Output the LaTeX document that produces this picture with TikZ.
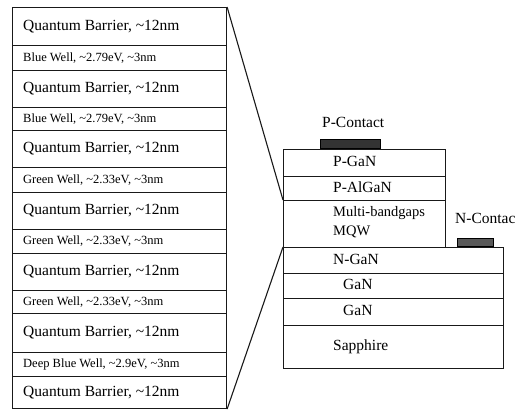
\documentclass[tikz,border=0pt]{standalone}
\usepackage{fontspec}
\setmainfont{Liberation Serif}
\begin{document}
\begin{tikzpicture}[x=1pt,y=-1pt,
  lay/.style={draw=black!90, line width=1.1pt, rectangle, inner sep=0pt, anchor=north west},
  leftlay/.style={lay, minimum width=214pt},
  midlay/.style={lay, minimum width=162pt},
  widelay/.style={lay, minimum width=220pt},
  big/.style={font=\fontsize{15.5}{17}\selectfont, inner sep=0pt, anchor=west, text height=10.5pt, text depth=3pt},
  small/.style={font=\fontsize{12.5}{14}\selectfont, inner sep=0pt, anchor=west, text height=8.5pt, text depth=2.5pt},
  con/.style={draw=black!90, line width=1.1pt},
  contact/.style={draw=black, line width=0.6pt, anchor=north west, inner sep=0pt}]
\useasboundingbox (0,0) rectangle (517,410);
% left stack (zoomed MQW)
\node[leftlay, minimum height=38pt] (qb1) at (12,7) {};
\node[leftlay, minimum height=25pt] (bw1) at (12,45) {};
\node[leftlay, minimum height=37pt] (qb2) at (12,70) {};
\node[leftlay, minimum height=23pt] (bw2) at (12,107) {};
\node[leftlay, minimum height=37pt] (qb3) at (12,130) {};
\node[leftlay, minimum height=25pt] (gw1) at (12,167) {};
\node[leftlay, minimum height=37pt] (qb4) at (12,192) {};
\node[leftlay, minimum height=24pt] (gw2) at (12,229) {};
\node[leftlay, minimum height=37pt] (qb5) at (12,253) {};
\node[leftlay, minimum height=23pt] (gw3) at (12,290) {};
\node[leftlay, minimum height=39pt] (qb6) at (12,313) {};
\node[leftlay, minimum height=24pt] (dbw) at (12,352) {};
\node[leftlay, minimum height=32pt] (qb7) at (12,376) {};
\node[big] (tqb1) at ([xshift=11pt]qb1.west) {Quantum Barrier, \textasciitilde12nm};
\node[small] (tbw1) at ([xshift=11pt]bw1.west) {Blue Well, \textasciitilde2.79eV, \textasciitilde3nm};
\node[big] (tqb2) at ([xshift=11pt]qb2.west) {Quantum Barrier, \textasciitilde12nm};
\node[small] (tbw2) at ([xshift=11pt]bw2.west) {Blue Well, \textasciitilde2.79eV, \textasciitilde3nm};
\node[big] (tqb3) at ([xshift=11pt]qb3.west) {Quantum Barrier, \textasciitilde12nm};
\node[small] (tgw1) at ([xshift=11pt]gw1.west) {Green Well, \textasciitilde2.33eV, \textasciitilde3nm};
\node[big] (tqb4) at ([xshift=11pt]qb4.west) {Quantum Barrier, \textasciitilde12nm};
\node[small] (tgw2) at ([xshift=11pt]gw2.west) {Green Well, \textasciitilde2.33eV, \textasciitilde3nm};
\node[big] (tqb5) at ([xshift=11pt]qb5.west) {Quantum Barrier, \textasciitilde12nm};
\node[small] (tgw3) at ([xshift=11pt]gw3.west) {Green Well, \textasciitilde2.33eV, \textasciitilde3nm};
\node[big] (tqb6) at ([xshift=11pt]qb6.west) {Quantum Barrier, \textasciitilde12nm};
\node[small] (tdbw) at ([xshift=11pt]dbw.west) {Deep Blue Well, \textasciitilde2.9eV, \textasciitilde3nm};
\node[big] (tqb7) at ([xshift=11pt]qb7.west) {Quantum Barrier, \textasciitilde12nm};
% right device stack
\node[midlay, minimum height=27pt] (pgan) at (283,149) {};
\node[midlay, minimum height=24pt] (palgan) at (283,176) {};
\node[midlay, minimum height=47pt] (mqw) at (283,200) {};
\node[widelay, minimum height=26pt] (ngan) at (283,247) {};
\node[widelay, minimum height=25pt] (gan1) at (283,273) {};
\node[widelay, minimum height=27pt] (gan2) at (283,298) {};
\node[widelay, minimum height=43pt] (sapph) at (283,325) {};
\node[contact, fill=black!80, minimum width=60pt, minimum height=9pt] (pc) at (320,139) {};
\node[contact, fill=black!65, minimum width=36pt, minimum height=8pt] (nc) at (457,238) {};
\node[big] (tpgan) at ([xshift=50pt]pgan.west) {P-GaN};
\node[big] (tpalgan) at ([xshift=50pt]palgan.west) {P-AlGaN};
\node[big, font=\fontsize{14.5}{16}\selectfont] (tmqw1) at (333,213) {Multi-bandgaps};
\node[big, font=\fontsize{14.5}{16}\selectfont] (tmqw2) at (333,232) {MQW};
\node[big] (tngan) at ([xshift=50pt]ngan.west) {N-GaN};
\node[big] (tgan1) at ([xshift=60pt]gan1.west) {GaN};
\node[big] (tgan2) at ([xshift=60pt]gan2.west) {GaN};
\node[big] (tsapph) at ([xshift=50pt]sapph.west) {Sapphire};
\node[big] (tpc) at (322,124) {P-Contact};
\node[big] (tnc) at (455,220) {N-Contac};
% zoom connectors
\draw[con] (qb1.north east) -- (mqw.north west);
\draw[con] (qb7.south east) -- (ngan.north west);
\end{tikzpicture}
\end{document}
